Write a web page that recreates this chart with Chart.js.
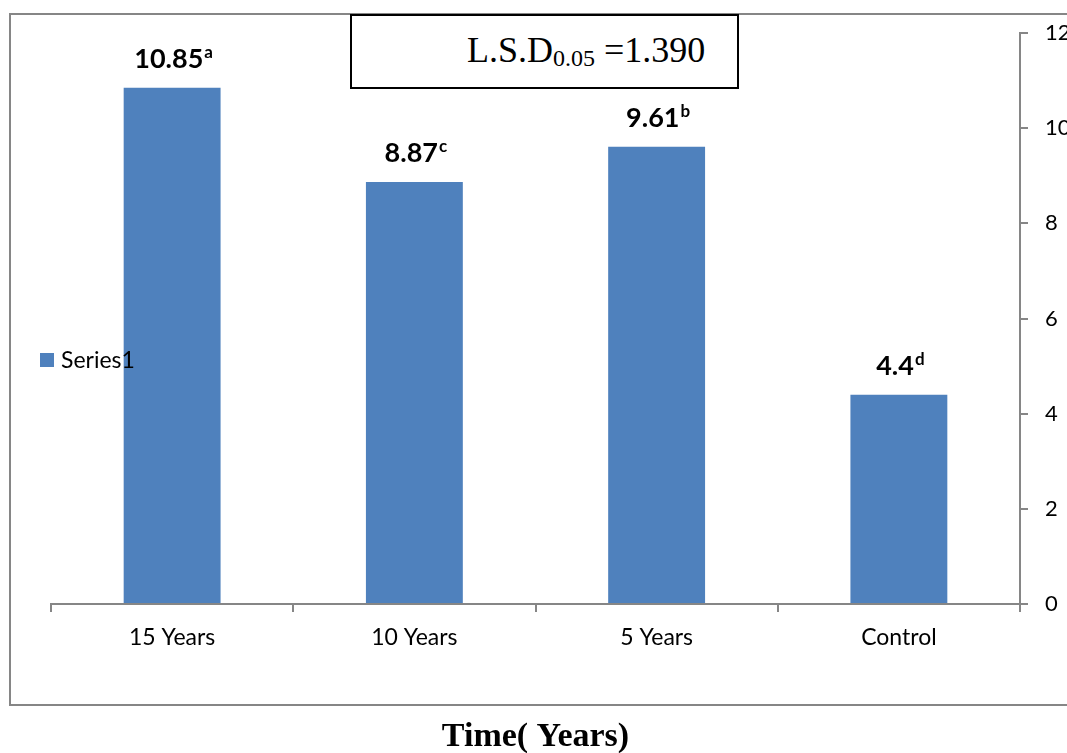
<!DOCTYPE html>
<html>
<head>
<meta charset="utf-8">
<script src="https://cdn.jsdelivr.net/npm/chart.js@4.4.0/dist/chart.umd.min.js"></script>
<style>
  html, body { margin:0; padding:0; background:#fff; overflow:hidden; }
  #wrap { position:relative; width:1067px; height:753px; }
  #lsd {
    position:absolute; left:350px; top:14px; width:385px; height:71px;
    border:2px solid #000; background:#fff; box-sizing:content-box;
    font-family:"Liberation Serif","Times New Roman",serif; font-size:36px; color:#000;
  }
  #lsd span.t { position:absolute; left:115px; top:13px; white-space:nowrap; }
  #lsd sub { font-size:24px; vertical-align:-4px; }
</style>
</head>
<body>
<div id="wrap">
  <canvas id="chartLsd" width="1067" height="753"></canvas>
  <div id="lsd"><span class="t">L.S.D<sub>0.05</sub> =1.390</span></div>
</div>
<script>
// datos
const categorias = ['15 Years', '10 Years', '5 Years', 'Control'];
const valores = [10.85, 8.87, 9.61, 4.4];
const letras = ['a', 'c', 'b', 'd'];
const etiquetas = ['10.85', '8.87', '9.61', '4.4'];
const yTicks = [0, 2, 4, 6, 8, 10, 12];

const AZUL = '#4F81BD';
const GRIS = '#868686';

// marco gris de todo el grafico
const marco = {
  id: 'marco',
  beforeDraw(chart) {
    const c = chart.ctx;
    c.save();
    c.strokeStyle = GRIS;
    c.lineWidth = 2;
    c.strokeRect(10, 14, 1070, 691);
    c.restore();
  }
};

// etiquetas con letra en superindice
const etiquetasBarras = {
  id: 'etiquetasBarras',
  afterDatasetsDraw(chart) {
    const c = chart.ctx;
    const meta = chart.getDatasetMeta(0);
    c.save();
    c.fillStyle = '#000';
    c.textBaseline = 'alphabetic';
    c.textAlign = 'left';
    meta.data.forEach((bar, i) => {
      c.font = 'bold 27px Lato, sans-serif';
      const w1 = c.measureText(etiquetas[i]).width;
      c.font = 'bold 17px Lato, sans-serif';
      const w2 = c.measureText(letras[i]).width;
      const x0 = bar.x - (w1 + w2) / 2 + 1;
      const yb = bar.y - 20;
      c.font = 'bold 27px Lato, sans-serif';
      c.fillText(etiquetas[i], x0, yb);
      c.font = 'bold 17px Lato, sans-serif';
      c.fillText(letras[i], x0 + w1 + 1, yb - 10);
    });
    c.restore();
  }
};

// leyenda encima de las barras, como en el original
const leyenda = {
  id: 'leyenda',
  afterDraw(chart) {
    const c = chart.ctx;
    const ds = chart.data.datasets[0];
    c.save();
    c.fillStyle = ds.backgroundColor;
    c.fillRect(40, 353, 14, 14);
    c.fillStyle = '#000';
    c.font = '23px Lato, sans-serif';
    c.textBaseline = 'middle';
    c.fillText(ds.label, 61, 361);
    c.restore();
  }
};

function initGrafico() {
  new Chart(document.getElementById('chartLsd').getContext('2d'), {
    type: 'bar',
    data: {
      labels: categorias,
      datasets: [{ label: 'Series1', data: valores, backgroundColor: AZUL, barPercentage: 0.8, categoryPercentage: 0.5 }]
    },
    options: {
      responsive: false,
      animation: false,
      layout: { padding: { left: 51, top: 33, right: 0, bottom: 0 } },
      plugins: { legend: { display: false }, tooltip: { enabled: false } },
      scales: {
        x: {
          afterFit: s => { s.height = 149; },
          grid: { offset: true, drawOnChartArea: false, tickLength: 8, color: GRIS, lineWidth: 2 },
          border: { color: GRIS, width: 2 },
          ticks: { color: '#000', font: { family: 'Lato', size: 23 }, padding: 12 },
          title: {
            display: true, text: 'Time( Years)', color: '#000',
            font: { family: 'Liberation Serif', size: 34, weight: 'bold' },
            padding: { top: 0, bottom: -5 }
          }
        },
        y: {
          position: 'right',
          min: 0, max: 12,
          afterFit: s => { s.width = 47; },
          afterBuildTicks: s => { s.ticks = yTicks.map(v => ({ value: v })); },
          grid: { drawOnChartArea: false, tickLength: 8, color: GRIS, lineWidth: 2 },
          border: { color: GRIS, width: 2 },
          ticks: { color: '#000', font: { family: 'Lato', size: 22 }, padding: 17 }
        }
      }
    },
    plugins: [marco, etiquetasBarras, leyenda]
  });
}
document.addEventListener('DOMContentLoaded', initGrafico);
</script>
</body>
</html>
